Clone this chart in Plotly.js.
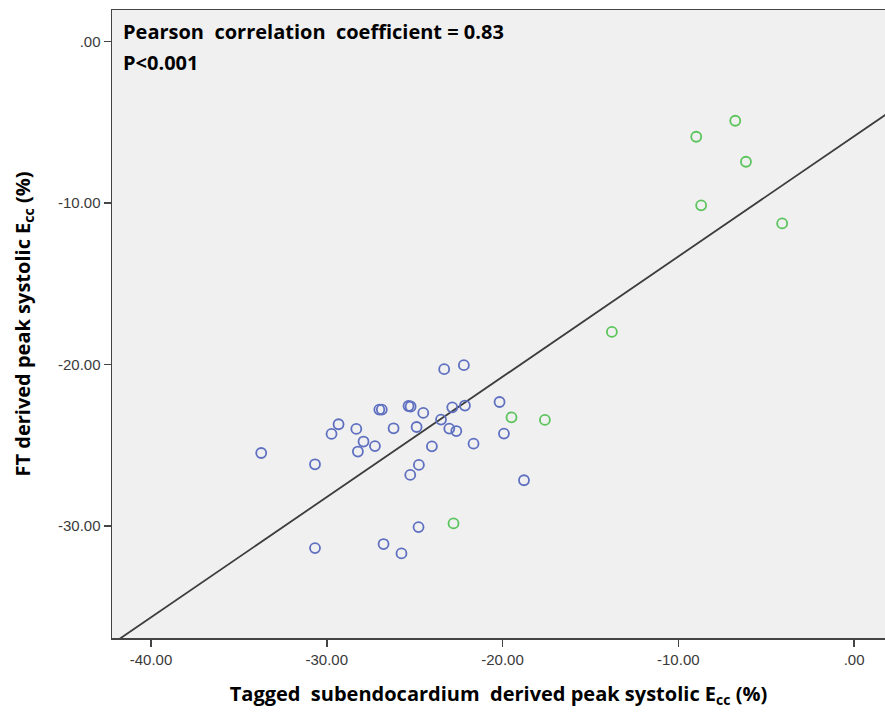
<!DOCTYPE html>
<html>
<head>
<meta charset="utf-8">
<script src="https://cdn.plot.ly/plotly-3.0.1.min.js"></script>
<style>html,body{margin:0;padding:0;background:#fff;}#chart{width:885px;height:715px;}</style>
</head>
<body>
<div id="chart"></div>
<script>
// Blue group (tagged vs FT Ecc)
const blueX = [-23.32, -22.20, -27.01, -26.87, -25.35, -25.23, -24.51, -22.86, -22.14, -20.17,
               -29.33, -29.73, -28.32, -26.20, -24.89, -23.50, -23.03, -22.63, -19.92, -27.91,
               -28.23, -27.26, -24.02, -21.65, -33.73, -30.67, -24.76, -25.25, -18.78, -24.78,
               -30.67, -26.77, -25.75];
const blueY = [-20.29, -20.04, -22.79, -22.79, -22.57, -22.60, -23.00, -22.65, -22.54, -22.32,
               -23.70, -24.30, -23.99, -23.95, -23.87, -23.41, -23.97, -24.12, -24.28, -24.77,
               -25.39, -25.05, -25.07, -24.90, -25.48, -26.18, -26.22, -26.84, -27.17, -30.07,
               -31.37, -31.12, -31.70];
// Green group
const greenX = [-8.98, -6.76, -6.15, -8.70, -4.09, -13.78, -19.49, -17.59, -22.79];
const greenY = [-5.89, -4.90, -7.44, -10.14, -11.26, -17.98, -23.27, -23.43, -29.84];

// Fit line
const fitSlope = 0.745;
const fitIntercept = -5.86;

const xRange = [-42.22, 1.76];
const yRange = [-36.94, 1.96];

const xTickVals = [-40, -30, -20, -10, 0];
const xTickText = ["-40.00", "-30.00", "-20.00", "-10.00", ".00"];
const yTickVals = [-30, -20, -10, 0];
const yTickText = ["-30.00", "-20.00", "-10.00", ".00"];

const fitX = [xRange[0] - 1, xRange[1] + 1];
const fitY = fitX.map(v => fitIntercept + fitSlope * v);

const markerBase = {symbol: 'circle-open', size: 10};

const traces = [
  {x: fitX, y: fitY, mode: 'lines', line: {color: '#3c3c3c', width: 1.8}, hoverinfo: 'skip', showlegend: false},
  {x: blueX, y: blueY, mode: 'markers', showlegend: false,
   marker: Object.assign({}, markerBase, {color: '#5f70c0', line: {color: '#5f70c0', width: 1.8}})},
  {x: greenX, y: greenY, mode: 'markers', showlegend: false,
   marker: Object.assign({}, markerBase, {color: '#5cc45c', line: {color: '#5cc45c', width: 1.8}})}
];

const tickFont = {family: 'Liberation Sans, Arial, sans-serif', size: 15, color: '#3a3a3a'};
const titleFont = {family: 'Open Sans, sans-serif', size: 20, color: '#000', weight: 'bold'};
const annFont = {family: 'Open Sans, sans-serif', size: 20, color: '#000'};

const layout = {
  width: 885, height: 715,
  margin: {l: 112, r: 0, t: 10, b: 77},
  paper_bgcolor: '#ffffff',
  plot_bgcolor: '#f0f0f0',
  font: tickFont,
  xaxis: {
    range: xRange, tickvals: xTickVals, ticktext: xTickText,
    showgrid: false, zeroline: false,
    showline: true, linecolor: '#444', linewidth: 1.5, mirror: true,
    ticks: 'outside', ticklen: 7, tickcolor: '#444', tickwidth: 1.5,
    tickfont: tickFont,
    title: {text: '<b>Tagged  subendocardium  derived peak systolic E<sub>cc</sub> (%)</b>', font: titleFont, standoff: 20}
  },
  yaxis: {
    range: yRange, tickvals: yTickVals, ticktext: yTickText,
    showgrid: false, zeroline: false,
    showline: true, linecolor: '#444', linewidth: 1.5,
    ticks: 'outside', ticklen: 7, tickcolor: '#444', tickwidth: 1.5,
    tickfont: tickFont,
    title: {text: '<b>FT derived peak systolic E<sub>cc</sub> (%)</b>', font: titleFont, standoff: 22}
  },
  annotations: [
    {xref: 'paper', yref: 'paper', x: 0.012, y: 0.9665, xanchor: 'left', yanchor: 'middle', showarrow: false,
     text: '<b>Pearson  correlation  coefficient = 0.83</b>', font: annFont},
    {xref: 'paper', yref: 'paper', x: 0.012, y: 0.917, xanchor: 'left', yanchor: 'middle', showarrow: false,
     text: '<b>P<0.001</b>', font: annFont}
  ]
};

Plotly.newPlot('chart', traces, layout, {displayModeBar: false, staticPlot: true});
</script>
</body>
</html>
